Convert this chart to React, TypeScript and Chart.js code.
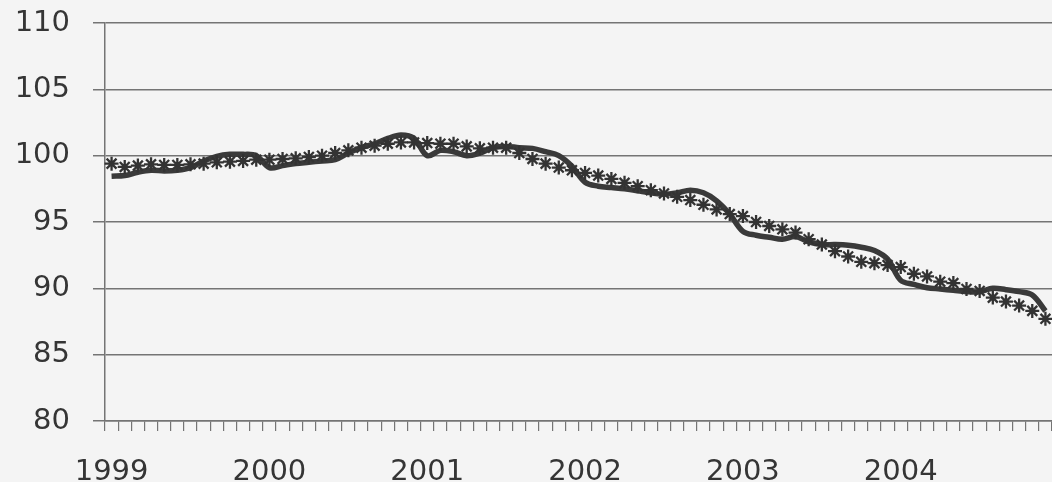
import React, { useEffect, useRef } from "react";
import { Chart, registerables } from "chart.js";

Chart.register(...registerables);

const years = ["1999", "2000", "2001", "2002", "2003", "2004"];
const monthNumbers = ["01", "02", "03", "04", "05", "06", "07", "08", "09", "10", "11", "12"];

const solidSeries = [
  98.45, 98.5, 98.75, 98.9, 98.85, 98.9, 99.1, 99.6, 99.95, 100.1, 100.1, 100.0,
  99.1, 99.25, 99.4, 99.5, 99.6, 99.7, 100.2, 100.6, 100.9, 101.3, 101.55, 101.3,
  100.0, 100.4, 100.3, 100.0, 100.2, 100.6, 100.7, 100.6, 100.55, 100.3, 100.0, 99.2,
  98.0, 97.7, 97.6, 97.5, 97.35, 97.2, 97.1, 97.2, 97.4, 97.2, 96.6, 95.6,
  94.3, 94.0, 93.85, 93.7, 93.9, 93.5, 93.3, 93.3, 93.25, 93.1, 92.85, 92.2,
  90.6, 90.3, 90.05, 89.95, 89.85, 89.75, 89.75, 90.0, 89.9, 89.75, 89.5, 88.3,
];

const starSeries = [
  99.4, 99.15, 99.25, 99.35, 99.3, 99.3, 99.35, 99.4, 99.5, 99.55, 99.6, 99.7,
  99.7, 99.75, 99.8, 99.9, 100.0, 100.2, 100.4, 100.6, 100.75, 100.9, 101.0, 101.0,
  100.95, 100.9, 100.9, 100.7, 100.55, 100.6, 100.6, 100.2, 99.75, 99.4, 99.1, 98.9,
  98.7, 98.5, 98.25, 97.95, 97.7, 97.4, 97.15, 96.9, 96.65, 96.3, 95.95, 95.6,
  95.45, 95.0, 94.7, 94.45, 94.2, 93.7, 93.3, 92.8, 92.4, 92.0, 91.9, 91.75,
  91.6, 91.1, 90.9, 90.5, 90.4, 89.95, 89.8, 89.3, 89.0, 88.7, 88.3, 87.7,
];

const yMin = 80;
const yMax = 110;
const yStep = 5;

const categories = years.flatMap((y) => monthNumbers.map((m) => `${y}-${m}`));

const TEXT = "#353535";
const GRID = "#747474";
const FONT = { family: "'DejaVu Sans', sans-serif", size: 29, lineHeight: 1.2 };

export default function App() {
  const ref = useRef<HTMLCanvasElement | null>(null);

  useEffect(() => {
    if (!ref.current) return;
    const chart = new Chart(ref.current, {
      type: "line",
      data: {
        labels: categories,
        datasets: [
          {
            label: "stars",
            data: starSeries,
            showLine: false,
            pointStyle: "star",
            pointRadius: 7,
            pointHoverRadius: 7,
            pointBorderWidth: 2.3,
            pointBorderColor: "#333333",
            pointBackgroundColor: "#333333",
            borderColor: "#333333",
            order: 0,
          },
          {
            label: "solid",
            data: solidSeries,
            borderColor: "#3a3a3a",
            borderWidth: 5.5,
            pointRadius: 0,
            pointHoverRadius: 0,
            tension: 0.35,
            fill: false,
            order: 1,
          },
        ],
      },
      options: {
        responsive: false,
        animation: false,
        layout: { autoPadding: false, padding: { top: 23, right: 0, left: 0, bottom: 0 } },
        plugins: { legend: { display: false }, tooltip: { enabled: false } },
        scales: {
          x: {
            type: "category",
            offset: true,
            afterFit: (s: any) => {
              s.height = 61;
              s.paddingLeft = 0;
              s.paddingRight = 0;
            },
            grid: {
              offset: true,
              drawOnChartArea: false,
              drawTicks: true,
              tickLength: 10,
              color: GRID,
              lineWidth: 1.2,
            },
            border: { display: true, color: GRID, width: 1.5 },
            ticks: {
              autoSkip: false,
              maxRotation: 0,
              minRotation: 0,
              padding: 24,
              color: TEXT,
              font: FONT,
              callback: (_v: any, i: number) => (i % 12 === 0 ? categories[i].slice(0, 4) : ""),
            },
          },
          y: {
            min: yMin,
            max: yMax,
            afterFit: (s: any) => {
              s.width = 105;
              s.paddingTop = 0;
              s.paddingBottom = 0;
            },
            ticks: { stepSize: yStep, padding: 23, color: TEXT, font: FONT },
            grid: { color: GRID, lineWidth: 1.5, tickLength: 12, drawTicks: true },
            border: { display: true, color: GRID, width: 1.5 },
          },
        },
      },
    });
    return () => chart.destroy();
  }, []);

  return (
    <div
      style={{
        position: "absolute",
        left: 0,
        top: 0,
        width: 1052,
        height: 482,
        background: "#f4f4f4",
      }}
    >
      <canvas ref={ref} width={1052} height={482} />
    </div>
  );
}
